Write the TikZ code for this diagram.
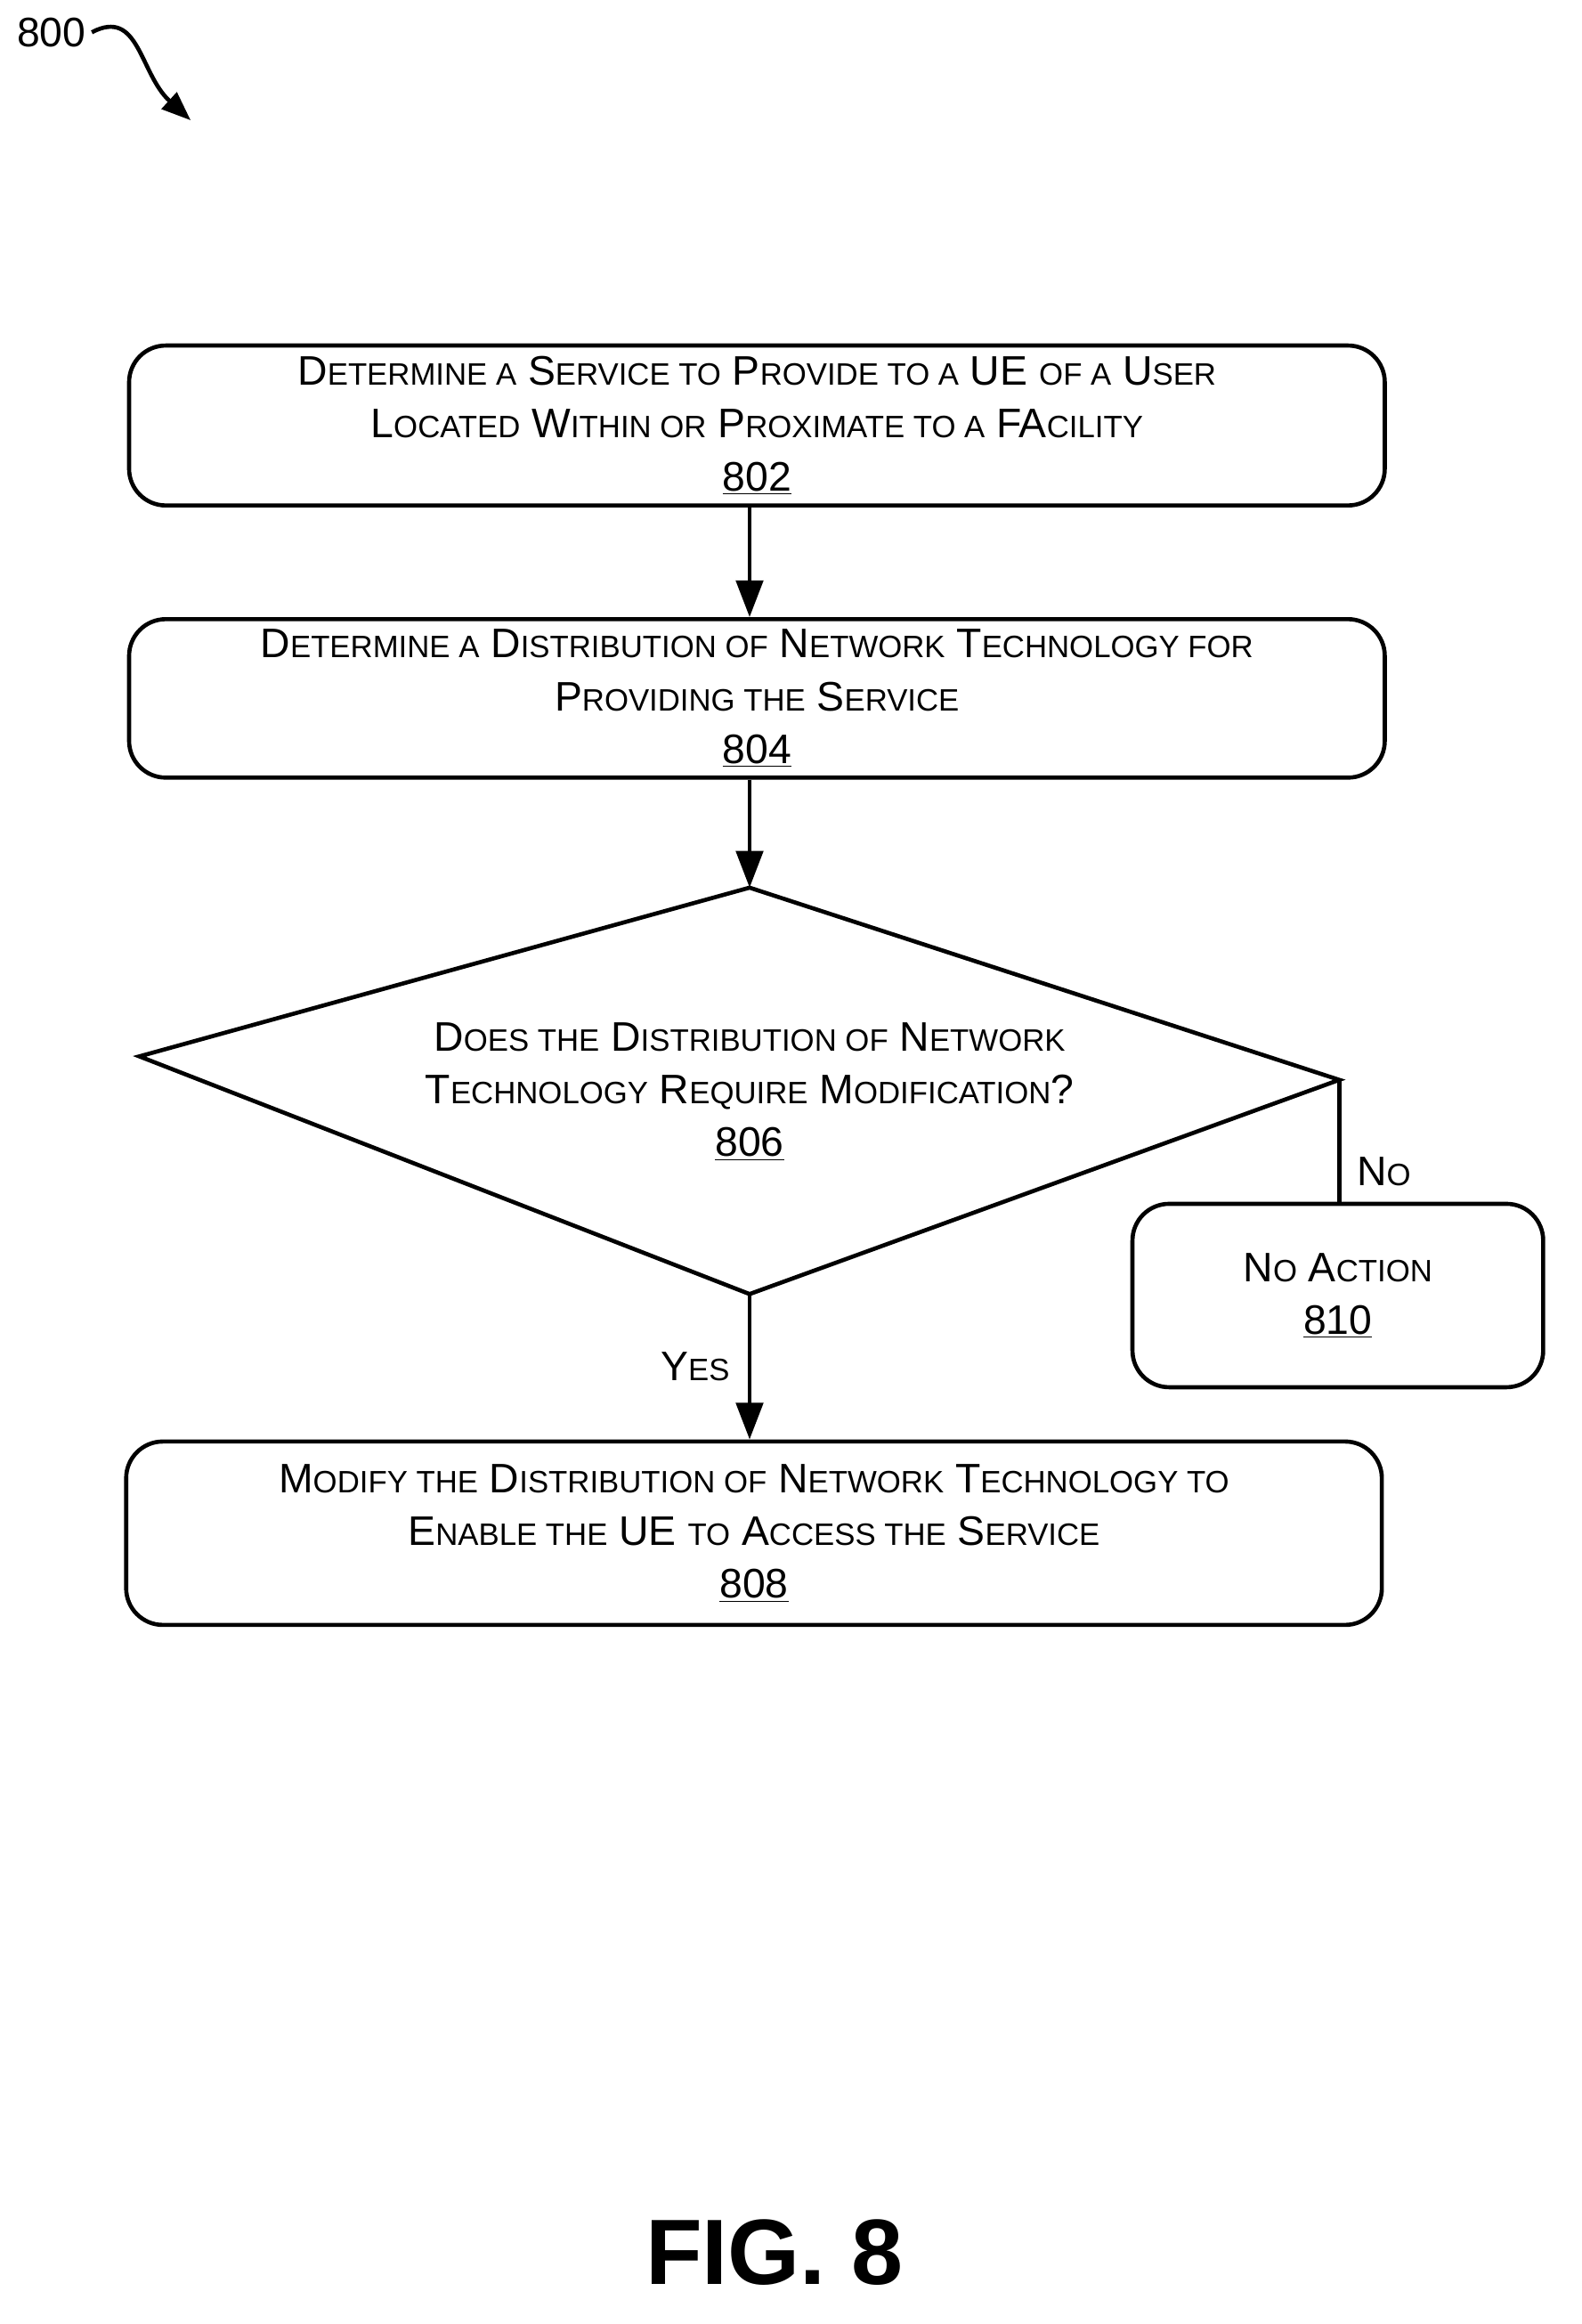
\documentclass[tikz,border=0pt]{standalone}
\usepackage{fontspec}
\setmainfont{Liberation Sans}
\usetikzlibrary{arrows.meta}
\newcommand\Sm[1]{{\fontsize{18}{30.7}\selectfont #1}}
\tikzset{
  box/.style={draw, line width=2.4pt, rounded corners=0.75cm, align=center, inner sep=0pt},
  flow/.style={line width=2.4pt, -{Triangle[length=0.75cm,width=0.55cm]}},
  lbl/.style={font=\fontsize{24}{30.7}\selectfont}
}
\begin{document}
\begin{tikzpicture}[x=0.03cm, y=-0.03cm, every node/.style={font=\fontsize{24}{30.7}\selectfont}]
\useasboundingbox (0,0) rectangle (1078,1584);

% figure label
\node[lbl] (fig) at (35,22) {800};
\coordinate (figend) at (130,82);
\draw[line width=2.4pt, -{Triangle[length=0.6cm,width=0.45cm]}] (fig.east) .. controls (95,5) and (95,50) .. (figend);

% boxes
\node[box, minimum width=856*0.03cm, minimum height=109*0.03cm] (b802) at (516,290)
  {D\Sm{ETERMINE A} S\Sm{ERVICE TO} P\Sm{ROVIDE TO A} UE \Sm{OF A} U\Sm{SER}\\
   L\Sm{OCATED} W\Sm{ITHIN OR} P\Sm{ROXIMATE TO A} FA\Sm{CILITY}\\ \underline{802}};
\node[box, minimum width=856*0.03cm, minimum height=108*0.03cm] (b804) at (516,476)
  {D\Sm{ETERMINE A} D\Sm{ISTRIBUTION OF} N\Sm{ETWORK} T\Sm{ECHNOLOGY FOR}\\
   P\Sm{ROVIDING THE} S\Sm{ERVICE}\\ \underline{804}};

% decision
\coordinate (dtop) at (511,605);
\coordinate (dleft) at (95,720);
\coordinate (dright) at (913,736);
\coordinate (dbot) at (511,882);
\draw[line width=2.4pt, line join=miter] (dtop) -- (dright) -- (dbot) -- (dleft) -- cycle;
\node[align=center] (d806) at (511,744)
  {D\Sm{OES THE} D\Sm{ISTRIBUTION OF} N\Sm{ETWORK}\\
   T\Sm{ECHNOLOGY} R\Sm{EQUIRE} M\Sm{ODIFICATION}?\\ \underline{806}};

\node[box, minimum width=280*0.03cm, minimum height=125*0.03cm] (b810) at (912,883)
  {N\Sm{O} A\Sm{CTION}\\ \underline{810}};
\node[box, minimum width=856*0.03cm, minimum height=125*0.03cm] (b808) at (514,1045)
  {M\Sm{ODIFY THE} D\Sm{ISTRIBUTION OF} N\Sm{ETWORK} T\Sm{ECHNOLOGY TO}\\
   E\Sm{NABLE THE} UE \Sm{TO} A\Sm{CCESS THE} S\Sm{ERVICE}\\ \underline{808}};

% connectors
\draw[flow] (b802.south -| dtop) -- (b804.north -| dtop);
\draw[flow] (b804.south -| dtop) -- (dtop);
\draw[flow] (dbot) -- node[left=0.25cm] {Y\Sm{ES}} (b808.north -| dbot);
\draw[line width=2.4pt] (dright) -- node[right=0.2cm, pos=0.75] {N\Sm{O}} (b810.north -| dright);

\node[font=\fontsize{54}{60}\selectfont\bfseries] (title) at (528,1535) {FIG. 8};
\end{tikzpicture}
\end{document}
